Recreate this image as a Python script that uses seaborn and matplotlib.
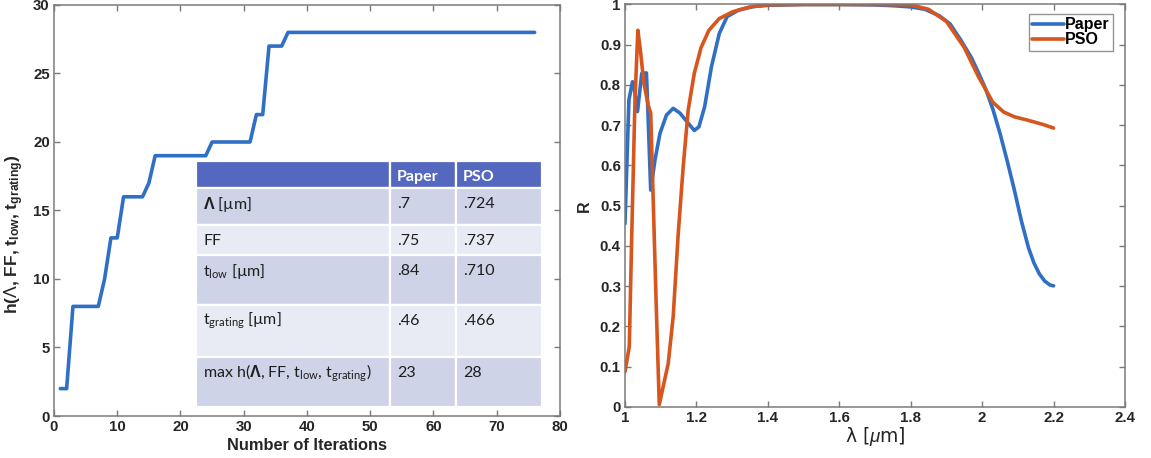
import matplotlib
matplotlib.use("Agg")
import matplotlib.pyplot as plt
from matplotlib.patches import Rectangle
import seaborn as sns

# --- optimisation history (best fitness per iteration, vertices of the curve)
iterations = [1, 2, 3, 7, 8, 9, 10, 11, 14, 15, 16, 24, 25, 31, 32, 33, 34, 36, 37, 76]
best_fitness = [2, 2, 8, 8, 10, 13, 13, 16, 16, 17, 19, 19, 20, 20, 22, 22, 27, 27, 28, 28]

# --- reflectance spectra
wl_paper = [1.000, 1.005, 1.011, 1.021, 1.024, 1.035, 1.047, 1.060, 1.063, 1.072,
            1.084, 1.098, 1.116, 1.135, 1.154, 1.177, 1.194, 1.207, 1.223, 1.242,
            1.264, 1.286, 1.318, 1.360, 1.40, 1.45, 1.50, 1.60, 1.70, 1.75,
            1.80, 1.84, 1.88, 1.91, 1.94, 1.97, 1.99, 2.01, 2.03, 2.05, 2.07,
            2.09, 2.11, 2.13, 2.145, 2.16, 2.175, 2.19, 2.20]
r_paper = [0.455, 0.597, 0.763, 0.808, 0.804, 0.734, 0.829, 0.830, 0.763, 0.539,
           0.614, 0.680, 0.725, 0.742, 0.730, 0.705, 0.687, 0.696, 0.746, 0.845,
           0.928, 0.970, 0.986, 0.995, 0.998, 0.999, 1.000, 1.000, 0.999, 0.997,
           0.994, 0.988, 0.972, 0.952, 0.912, 0.868, 0.830, 0.790, 0.740, 0.680, 0.612,
           0.540, 0.462, 0.395, 0.358, 0.331, 0.313, 0.303, 0.301]

wl_pso = [1.000, 1.012, 1.019, 1.028, 1.036, 1.043, 1.053, 1.065, 1.072, 1.079,
          1.087, 1.096, 1.107, 1.121, 1.135, 1.149, 1.163, 1.177, 1.194, 1.213,
          1.235, 1.264, 1.302, 1.350, 1.40, 1.50, 1.60, 1.70, 1.80, 1.85,
          1.90, 1.95, 1.99, 2.03, 2.06, 2.09, 2.13, 2.17, 2.20]
r_pso = [0.088, 0.150, 0.430, 0.763, 0.936, 0.887, 0.804, 0.750, 0.730, 0.514,
         0.266, 0.006, 0.051, 0.108, 0.225, 0.430, 0.597, 0.738, 0.829, 0.893,
         0.936, 0.965, 0.982, 0.994, 0.999, 1.000, 1.000, 1.000, 0.999, 0.988,
         0.958, 0.893, 0.820, 0.757, 0.733, 0.721, 0.712, 0.702, 0.693]

# --- parameter comparison table
table_header = ["", "Paper", "PSO"]
param_names = [r"$\mathbf{\Lambda}$ [µm]", "FF", r"t$_{\mathrm{low}}$ [µm]",
               r"t$_{\mathrm{grating}}$ [µm]",
               r"max h($\mathbf{\Lambda}$, FF, t$_{\mathrm{low}}$, t$_{\mathrm{grating}}$)"]
paper_values = [".7", ".75", ".84", ".46", "23"]
pso_values = [".724", ".737", ".710", ".466", "28"]

BLUE = "#2F6FC6"
ORANGE = "#D6561E"
SPINE = "#7A7A7A"
TEXT = "#262626"

sns.set_theme(style="white")
plt.rcParams.update({
    "font.family": ["Liberation Sans", "DejaVu Sans"],
    "font.weight": "bold",
    "mathtext.fontset": "custom",
    "mathtext.rm": "Lato:weight=normal",
    "mathtext.it": "Liberation Sans:italic:weight=normal",
    "mathtext.bf": "Liberation Sans:bold",
    "axes.edgecolor": SPINE,
    "axes.linewidth": 1.1,
    "xtick.color": SPINE,
    "ytick.color": SPINE,
    "xtick.labelcolor": TEXT,
    "ytick.labelcolor": TEXT,
})

fig = plt.figure(figsize=(11.51, 4.58), dpi=100)
ax1 = fig.add_axes([0.0469, 0.0917, 0.4396, 0.8974])
ax2 = fig.add_axes([0.5430, 0.1114, 0.4344, 0.8788])


def style_axes(ax):
    ax.tick_params(direction="in", length=4, width=1.0, top=True, right=True,
                   bottom=True, left=True, labelsize=10.8, pad=3)
    for lab in ax.get_xticklabels() + ax.get_yticklabels():
        lab.set_fontweight("bold")
    for sp in ax.spines.values():
        sp.set_visible(True)
        sp.set_color(SPINE)


LW = 2.6

# left panel: fitness history
sns.lineplot(x=iterations, y=best_fitness, ax=ax1, color=BLUE, linewidth=LW,
             estimator=None, sort=False)
ax1.set_xlim(0, 80)
ax1.set_ylim(0, 30)
ax1.set_xticks(range(0, 81, 10))
ax1.set_yticks(range(0, 31, 5))
ax1.set_xlabel("Number of Iterations", fontsize=11.8, fontweight="bold", color=TEXT, labelpad=3)
ax1.set_ylabel(r"h($\Lambda$, FF, t$_{\mathbf{low}}$, t$_{\mathbf{grating}}$)",
               fontsize=12.5, fontweight="bold", color=TEXT, labelpad=5)
ax1.yaxis.label.set_y(0.443)
style_axes(ax1)

# table drawn inside the left panel (axes-fraction layout)
col_edges = [0.2806, 0.6640, 0.7945, 0.9644]
row_edges = [0.6204, 0.5547, 0.4647, 0.3917, 0.2701, 0.1436, 0.0219]
HEADER = "#5468C0"
DARK = "#CFD3E8"
LIGHT = "#E8EAF4"
text_drop = 0.039
rows = [table_header] + [[n, p, s] for n, p, s in zip(param_names, paper_values, pso_values)]
for r, row in enumerate(rows):
    top, bot = row_edges[r], row_edges[r + 1]
    if r == 0:
        face = HEADER
    else:
        face = DARK if r % 2 == 1 else LIGHT
    for c, txt in enumerate(row):
        left, right = col_edges[c], col_edges[c + 1]
        ax1.add_patch(Rectangle((left, bot), right - left, top - bot,
                                transform=ax1.transAxes, facecolor=face,
                                edgecolor="white", linewidth=1.6, zorder=3,
                                clip_on=False))
        if txt:
            ax1.text(left + 0.014, top - text_drop, txt, transform=ax1.transAxes,
                     ha="left", va="center", zorder=4, fontsize=11.5,
                     fontweight="bold" if r == 0 else "normal",
                     color="white" if r == 0 else "#1E1E1E",
                     family=["Lato", "DejaVu Sans"])

# right panel: reflectance spectra
sns.lineplot(x=wl_paper, y=r_paper, ax=ax2, color=BLUE, linewidth=LW,
             estimator=None, sort=False, label="Paper")
sns.lineplot(x=wl_pso, y=r_pso, ax=ax2, color=ORANGE, linewidth=LW,
             estimator=None, sort=False, label="PSO")
ax2.set_xlim(1, 2.4)
ax2.set_ylim(0, 1)
xt = [1, 1.2, 1.4, 1.6, 1.8, 2, 2.2, 2.4]
yt = [0, 0.1, 0.2, 0.3, 0.4, 0.5, 0.6, 0.7, 0.8, 0.9, 1]
ax2.set_xticks(xt)
ax2.set_xticklabels([f"{v:g}" for v in xt])
ax2.set_yticks(yt)
ax2.set_yticklabels([f"{v:g}" for v in yt])
ax2.set_xlabel(r"λ [$\mu$m]", fontsize=13.5, fontweight="normal", color=TEXT, labelpad=0,
               family=["DejaVu Sans"])
ax2.set_ylabel("R", fontsize=11.5, fontweight="bold", color=TEXT, labelpad=6)
style_axes(ax2)
leg = ax2.legend(loc="upper right", bbox_to_anchor=(0.976, 0.976), borderaxespad=0,
                 frameon=True, fancybox=False, handlelength=2.0, handletextpad=0.05,
                 borderpad=0.2, labelspacing=0.0, prop={"weight": "bold", "size": 11.5})
leg.get_frame().set_edgecolor(SPINE)
leg.get_frame().set_linewidth(1.0)
for t in leg.get_texts():
    t.set_color("black")

fig.savefig("out.png", dpi=100)
